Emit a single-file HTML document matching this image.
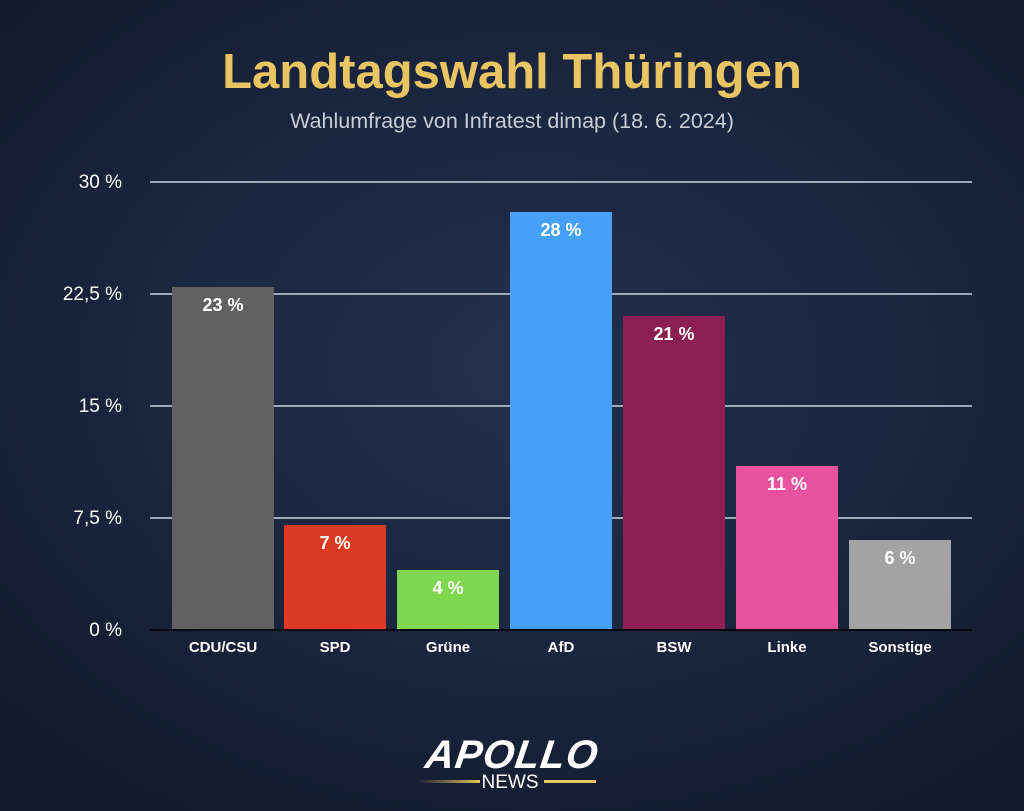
<!DOCTYPE html>
<html><head><meta charset="utf-8"><style>
html,body{margin:0;padding:0}
body{width:1024px;height:811px;overflow:hidden;position:relative;font-family:"Liberation Sans",sans-serif;
background:radial-gradient(ellipse 70% 65% at 52% 45%,#23304c 0%,#1b2640 50%,#121a2b 100%);}
.t{position:absolute;left:0;width:1024px;text-align:center}
.g{position:absolute;left:150px;width:822px;height:2px;background:#9ea8ba}
.yl{position:absolute;left:40px;width:82px;text-align:right;color:#fff;font-size:19px}
.b{position:absolute;width:102px;bottom:181px}
.v{position:absolute;top:8px;width:100%;text-align:center;color:#fff;font-weight:bold;font-size:18px}
.xl{position:absolute;top:639px;width:102px;text-align:center;color:#fff;font-weight:bold;font-size:15px}
</style></head><body>
<div class="t" style="top:44px;font-size:49px;font-weight:bold;color:#e8c462">Landtagswahl Thüringen</div>
<div class="t" style="top:109px;font-size:21.5px;color:#c8ccd4">Wahlumfrage von Infratest dimap (18. 6. 2024)</div>
<div class="g" style="top:181px"></div>
<div class="g" style="top:293px"></div>
<div class="g" style="top:405px"></div>
<div class="g" style="top:517px"></div>
<div class="yl" style="top:172px">30 %</div>
<div class="yl" style="top:284px">22,5 %</div>
<div class="yl" style="top:396px">15 %</div>
<div class="yl" style="top:508px">7,5 %</div>
<div class="yl" style="top:620px">0 %</div>
<div class="b" style="left:172px;height:343px;background:#616161"><div class="v">23 %</div></div>
<div class="b" style="left:284px;height:105px;background:#dc3a22"><div class="v">7 %</div></div>
<div class="b" style="left:397px;height:60px;background:#7fd64f"><div class="v">4 %</div></div>
<div class="b" style="left:510px;height:418px;background:#45a0f7"><div class="v">28 %</div></div>
<div class="b" style="left:623px;height:314px;background:#8c1f52"><div class="v">21 %</div></div>
<div class="b" style="left:736px;height:164px;background:#e9529e"><div class="v">11 %</div></div>
<div class="b" style="left:849px;height:90px;background:#a3a3a3"><div class="v">6 %</div></div>
<div style="position:absolute;left:150px;top:629px;width:822px;height:2px;background:#05070c"></div>
<div class="xl" style="left:172px">CDU/CSU</div>
<div class="xl" style="left:284px">SPD</div>
<div class="xl" style="left:397px">Grüne</div>
<div class="xl" style="left:510px">AfD</div>
<div class="xl" style="left:623px">BSW</div>
<div class="xl" style="left:736px">Linke</div>
<div class="xl" style="left:849px">Sonstige</div>
<div class="t" style="top:733px;font-size:40px;font-weight:900;font-style:italic;color:#fff;letter-spacing:1px;transform:skewX(-8deg)">APOLLO</div>
<div style="position:absolute;left:418px;top:780px;width:62px;height:3px;background:linear-gradient(90deg,rgba(232,196,98,0),#e8c462)"></div>
<div style="position:absolute;left:544px;top:780px;width:52px;height:3px;background:#e8c462"></div>
<div class="t" style="top:772px;font-size:19px;color:#fff;left:-2px">NEWS</div>
</body></html>
